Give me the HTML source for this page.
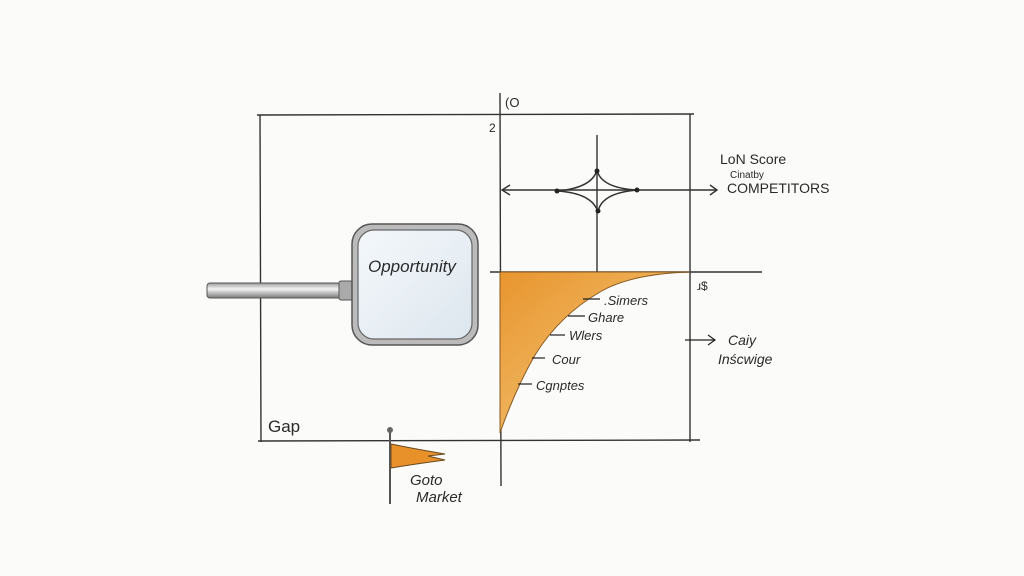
<!DOCTYPE html>
<html><head><style>
html,body{margin:0;padding:0;background:#fbfbf9;}
svg{display:block}
text{font-family:"Liberation Sans",sans-serif;fill:#2a2a2a}
</style></head><body>
<svg width="1024" height="576" viewBox="0 0 1024 576">
<defs>
<linearGradient id="og" x1="0" y1="0" x2="1" y2="1">
<stop offset="0" stop-color="#e8952e"/><stop offset="0.6" stop-color="#f0b863"/><stop offset="1" stop-color="#f6d49a"/>
</linearGradient>
<linearGradient id="lens" x1="0" y1="0" x2="1" y2="1">
<stop offset="0" stop-color="#f4f8fb"/><stop offset="1" stop-color="#dde6ee"/>
</linearGradient>
<linearGradient id="hd" x1="0" y1="0" x2="0" y2="1">
<stop offset="0" stop-color="#9a9a9a"/><stop offset="0.4" stop-color="#f4f4f4"/><stop offset="1" stop-color="#7a7a7a"/>
</linearGradient>
</defs>
<g stroke="#333" stroke-width="1.4" fill="none">
<line x1="257" y1="115" x2="694" y2="114"/>
<line x1="260" y1="115" x2="261" y2="442"/>
<line x1="690" y1="114" x2="690" y2="442"/>
<line x1="258" y1="441" x2="700" y2="440"/>
<line x1="500" y1="93" x2="501" y2="486"/>
<line x1="490" y1="272" x2="762" y2="272"/>
<line x1="597" y1="135" x2="597" y2="272"/>
<line x1="502" y1="190" x2="716" y2="190"/>
<polyline points="510,185 502,190 510,195"/>
<polyline points="710,185 717,190 710,195"/>
<path d="M557,191 Q592,188 597,170 Q601,188 637,190 Q601,193 598,212 Q592,193 557,191Z" stroke-width="1.5"/>
</g>
<g fill="#222"><circle cx="557" cy="191" r="2.5"/><circle cx="637" cy="190" r="2.5"/><circle cx="597" cy="171" r="2.5"/><circle cx="598" cy="211" r="2.5"/></g>
<path d="M500,272 L690,272 Q630,274 600,292 Q560,315 535,355 Q515,390 500,433 Z" fill="url(#og)" stroke="#8a5a20" stroke-width="1"/>
<g stroke="#222" stroke-width="1.2" fill="none">
<line x1="583" y1="299" x2="600" y2="299"/><line x1="568" y1="316" x2="585" y2="316"/>
<line x1="550" y1="335" x2="565" y2="335"/><line x1="532" y1="358" x2="545" y2="358"/>
<line x1="518" y1="384" x2="532" y2="384"/><line x1="685" y1="340" x2="715" y2="340"/>
<polyline points="708,335 715,340 708,345"/>
</g>
<text x="604" y="305" font-size="13" font-style="italic">.Simers</text>
<text x="588" y="322" font-size="13" font-style="italic">Ghare</text>
<text x="569" y="340" font-size="13" font-style="italic">Wlers</text>
<text x="552" y="364" font-size="13" font-style="italic">Cour</text>
<text x="536" y="390" font-size="13" font-style="italic">Cgnptes</text>
<text x="728" y="345" font-size="14" font-style="italic">Caiy</text>
<text x="718" y="364" font-size="14" font-style="italic">Inścwige</text>
<text x="720" y="164" font-size="14">LoN Score</text>
<text x="730" y="178" font-size="10">Cinatby</text>
<text x="727" y="193" font-size="14">COMPETITORS</text>
<text x="505" y="107" font-size="13">(O</text>
<text x="489" y="132" font-size="12">2</text>
<text x="697" y="290" font-size="12">ɹ$</text>
<text x="268" y="432" font-size="17">Gap</text>
<rect x="207" y="283" width="150" height="15" rx="3" fill="url(#hd)" stroke="#555" stroke-width="1"/>
<rect x="339" y="281" width="16" height="19" rx="2" fill="#aaa" stroke="#555"/>
<rect x="352" y="224" width="126" height="121" rx="20" fill="#bbb" stroke="#555" stroke-width="1.5"/>
<rect x="358" y="230" width="114" height="109" rx="16" fill="url(#lens)" stroke="#666" stroke-width="1.2"/>
<text x="368" y="272" font-size="17" font-style="italic">Opportunity</text>
<line x1="390" y1="432" x2="390" y2="504" stroke="#555" stroke-width="2"/>
<circle cx="390" cy="430" r="3" fill="#666"/>
<path d="M391,444 Q410,448 445,454 L428,456 L445,460 Q415,464 391,468Z" fill="#e8902a" stroke="#6a4a20" stroke-width="1"/>
<text x="410" y="485" font-size="15" font-style="italic">Goto</text>
<text x="416" y="502" font-size="15" font-style="italic">Market</text>
</svg>
</body></html>
